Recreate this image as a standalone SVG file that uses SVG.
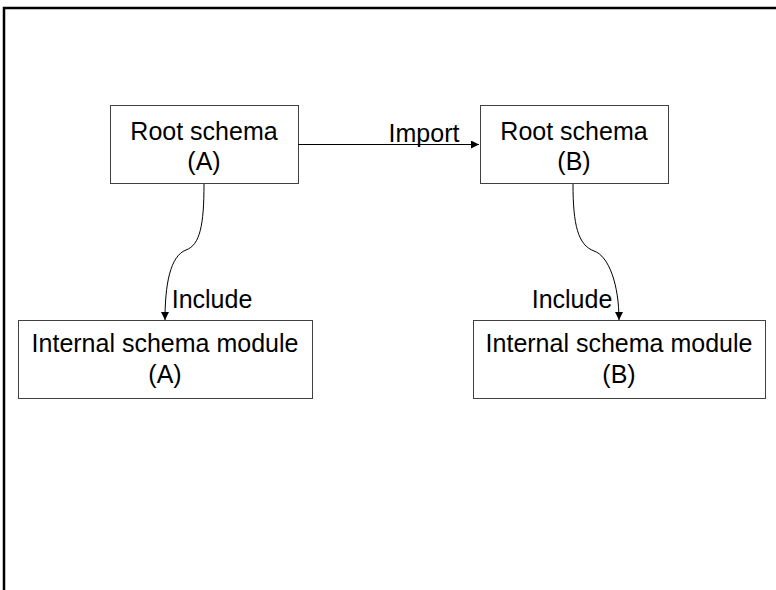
<svg xmlns="http://www.w3.org/2000/svg" width="776" height="590" viewBox="0 0 776 590">
<style>
.box{fill:#fff;stroke:#404040;stroke-width:1}
.t{font-family:"Liberation Sans",Arial,sans-serif;font-size:25px;fill:#000;text-anchor:middle}
.c{fill:none;stroke:#000;stroke-width:1}
</style>
<defs>
<marker id="ah" viewBox="0 0 10 10" refX="10" refY="5" markerWidth="8" markerHeight="8" markerUnits="userSpaceOnUse" orient="auto">
<path d="M0,0 L10,5 L0,10 z" fill="#000"/>
</marker>
</defs>
<rect x="0" y="0" width="776" height="590" fill="#fff"/>
<rect x="4" y="8" width="800" height="600" fill="none" stroke="#000" stroke-width="2.5"/>
<g id="rootA"><rect class="box" x="110.5" y="105.5" width="188" height="78"/><text class="t" x="204" y="140">Root schema</text><text class="t" x="204" y="170">(A)</text></g>
<g id="rootB"><rect class="box" x="480.5" y="105.5" width="188" height="78"/><text class="t" x="574" y="140">Root schema</text><text class="t" x="574" y="170">(B)</text></g>
<g id="intA"><rect class="box" x="18.5" y="320.5" width="294" height="78"/><text class="t" x="165" y="352">Internal schema module</text><text class="t" x="165" y="383">(A)</text></g>
<g id="intB"><rect class="box" x="473.5" y="320.5" width="292" height="78"/><text class="t" x="619" y="352">Internal schema module</text><text class="t" x="619" y="383">(B)</text></g>
<g id="connectors">
<path class="c" d="M298,144.5 L479,144.5" marker-end="url(#ah)"/>
<text class="t" x="424" y="142">Import</text>
<path class="c" d="M204,184 C204,225 200,245 186,250 C170,256 165,285 165,320" marker-end="url(#ah)"/>
<text class="t" x="212" y="308">Include</text>
<path class="c" d="M573,184 C573,225 578,245 594,251 C609,256 619,285 619,320" marker-end="url(#ah)"/>
<text class="t" x="572" y="308">Include</text>
</g>
</svg>
